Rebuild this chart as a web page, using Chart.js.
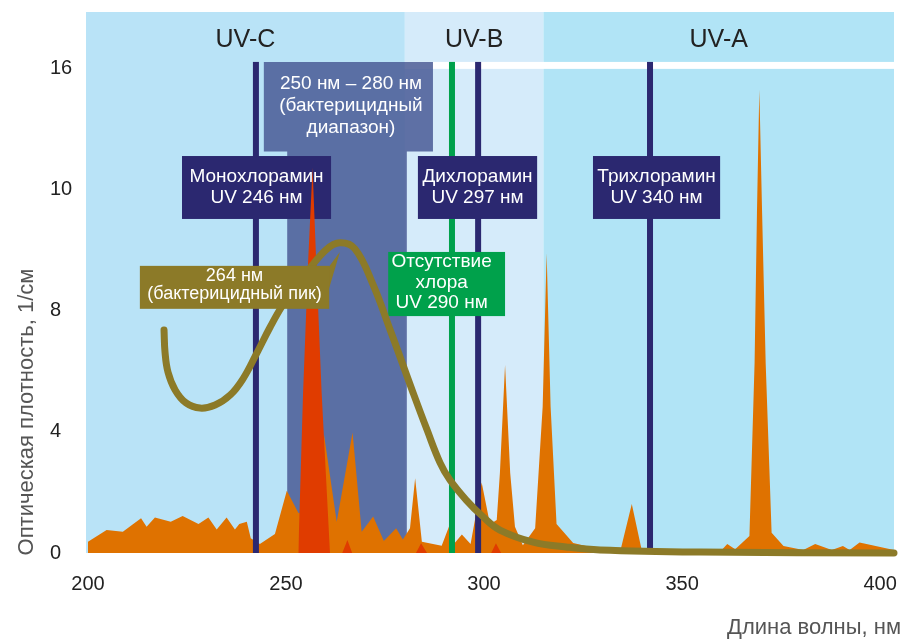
<!DOCTYPE html>
<html><head><meta charset="utf-8">
<script src="https://cdn.jsdelivr.net/npm/chart.js@4.4.0/dist/chart.umd.min.js"></script>
<style>html,body{margin:0;padding:0;background:#fff;}</style>
</head><body>
<canvas id="c" width="905" height="641"></canvas>
<script>
// ---- data ----
const spectrumNm  = [200.0,204.7,208.8,213.4,214.8,216.9,220.9,223.9,227.9,230.4,232.5,235.0,237.1,238.2,240.1,241.1,243.4,247.2,250.2,253.1,256.0,259.6,262.8,266.8,269.1,272.0,274.7,277.8,279.5,281.3,282.6,284.3,289.3,291.2,292.7,294.4,296.6,299.4,301.5,303.2,304.0,305.3,306.6,307.8,309.8,312.9,314.8,315.8,316.8,318.3,322.5,327.6,334.6,337.3,339.8,360.0,361.4,363.4,367.0,368.3,368.9,369.5,370.2,371.1,372.6,375.6,380.6,383.6,387.8,390.6,392.3,394.8,403.5];
const spectrumVal = [0.37,0.76,0.70,1.15,0.87,1.17,1.03,1.22,0.96,1.17,0.78,1.17,0.78,0.96,1.03,0.49,0.30,0.63,2.06,1.33,1.20,3.90,1.03,3.98,0.70,1.21,0.40,0.82,0.45,0.82,2.47,0.37,0.24,0.89,0.35,0.61,0.30,2.33,0.95,1.09,2.64,6.21,2.64,0.87,0.26,0.82,4.84,9.91,4.84,0.96,0.33,0.17,0.17,1.62,0.10,0.10,0.30,0.12,0.56,6.28,11.24,15.31,11.24,6.28,0.67,0.23,0.10,0.30,0.10,0.23,0.10,0.35,0.10];
const lampNm  = [253.1,254.3,255.6,256.7,257.6,259.0,261.1,264.2,265.5,266.7,282.8,284.1,285.6,301.8,303.0,304.3];
const lampVal = [0,5.28,9.69,12.73,9.69,5.28,0,0,0.43,0,0,0.32,0,0,0.32,0];
const curveNm  = [219.2,219.45,220.2,222.0,224.75,228.3,232.1,235.9,239.1,242.4,246.0,249.2,252.5,255.3,260.1,263.6,267.4,272.0,276.3,278.8,282.1,285.6,288.9,291.4,295.5,299.8,304.0,312.4,320.7,329.3,354.5,403.5];
const curveVal = [7.37,6.64,5.98,5.39,4.96,4.79,4.89,5.22,5.75,6.55,7.47,8.20,8.79,9.29,10.02,10.25,10.05,8.86,7.37,6.48,5.29,4.07,2.98,2.41,1.75,1.19,0.76,0.36,0.20,0.10,0.03,0.0];
const xTickValues = [200,250,300,350,400];
const yTickValues = [0,4,8,12,16];
const yTickLabels = ['0','4','8','10','16'];
const bandNames = ['UV-C','UV-B','UV-A'];
const bandStart = [199.5,280,315];
const bandEnd   = [280,315,403.5];
const markerNm  = [242.4,291.9,298.5,341.9];
const boxMono  = ['Монохлорамин','UV 246 нм'];
const boxDi    = ['Дихлорамин','UV 297 нм'];
const boxTri   = ['Трихлорамин','UV 340 нм'];
const boxNone  = ['Отсутствие','хлора','UV 290 нм'];
const boxPeak  = ['264 нм','(бактерицидный пик)'];
const boxRange = ['250 нм – 280 нм','(бактерицидный','диапазон)'];
const xTitle = 'Длина волны, нм';
const yTitle = 'Оптическая плотность, 1/см';

// ---- styles ----
const FONT = '"Liberation Sans", Arial, sans-serif';
const navy = '#2b2870', green = '#00a14b', olive = '#8c7a28';
const bandColors = ['#b9e3f7','#d5ebfa','#b1e4f6'];
const markerColors = [navy, green, navy, navy];
const pts = (xs, ys) => xs.map((v,i)=>({x:v, y:ys[i]}));

function textLines(ctx, lines, cx, cy, lh, font, color){
  ctx.font = font; ctx.fillStyle = color; ctx.textAlign='center'; ctx.textBaseline='middle';
  const n = lines.length;
  lines.forEach((t,i)=>ctx.fillText(t, cx, cy + (i-(n-1)/2)*lh));
}
function box(chart, x1, x2, y1, y2, color, lines, lh, font, dx, dy){
  const {ctx, scales:{x,y}} = chart;
  const px1 = x.getPixelForValue(x1), px2 = x.getPixelForValue(x2);
  const py1 = y.getPixelForValue(y1), py2 = y.getPixelForValue(y2);
  ctx.fillStyle = color;
  ctx.fillRect(px1, py1, px2-px1, py2-py1);
  textLines(ctx, lines, (px1+px2)/2 + (dx||0), (py1+py2)/2 + (dy||0), lh, font, '#ffffff');
}

const decor = {
  id:'decor',
  beforeDatasetsDraw(chart){
    const {ctx, chartArea:a, scales:{x,y}} = chart;
    ctx.save();
    for(let i=0;i<bandNames.length;i++){
      const x1 = x.getPixelForValue(bandStart[i]), x2 = x.getPixelForValue(bandEnd[i]);
      ctx.fillStyle = bandColors[i];
      ctx.fillRect(x1, a.top, x2-x1, a.bottom-a.top);
      ctx.font = '25px '+FONT; ctx.fillStyle='#222'; ctx.textAlign='center'; ctx.textBaseline='middle';
      ctx.fillText(bandNames[i], (x1+x2)/2, a.top+28);
    }
    // white strip at top of UV-B / UV-A
    const sx1 = x.getPixelForValue(280), sx2 = x.getPixelForValue(403.5);
    const sy1 = y.getPixelForValue(16.23), sy2 = y.getPixelForValue(16);
    ctx.fillStyle = '#ffffff';
    ctx.fillRect(sx1, sy1, sx2-sx1, sy2-sy1);
    // germicidal range shape
    const P = (nm,v)=>[x.getPixelForValue(nm), y.getPixelForValue(v)];
    const poly = [P(244.4,16.23),P(287.1,16.23),P(287.1,13.27),P(280.5,13.27),P(280.5,0),P(250.3,0),P(250.3,13.27),P(244.4,13.27)];
    ctx.beginPath(); poly.forEach((p,i)=> i?ctx.lineTo(p[0],p[1]):ctx.moveTo(p[0],p[1])); ctx.closePath();
    ctx.fillStyle = 'rgba(74,92,150,0.86)'; ctx.fill();
    const hy = y.getPixelForValue(16.23);
    textLines(ctx, boxRange, x.getPixelForValue(265.9)+2, hy+44, 22, '19px '+FONT, '#ffffff');
    ctx.restore();
  },
  afterDatasetDraw(chart, args){
    if(args.index !== 0) return;
    const {ctx, scales:{x,y}} = chart;
    ctx.save();
    markerNm.forEach((nm,i)=>{
      const px = x.getPixelForValue(nm);
      ctx.fillStyle = markerColors[i];
      const t = y.getPixelForValue(16.23), b = y.getPixelForValue(0);
      ctx.fillRect(px-3, t, 6, b-t);
    });
    const f19 = '19px '+FONT;
    box(chart, 223.74, 261.37, 13.12, 11.04, navy, boxMono, 21, f19);
    box(chart, 283.3, 313.4, 13.12, 11.04, navy, boxDi, 21, f19);
    box(chart, 327.5, 359.6, 13.12, 11.04, navy, boxTri, 21, f19);
    box(chart, 275.8, 305.3, 9.95, 7.83, green, boxNone, 20.5, f19, -5, -1.5);
    ctx.restore();
  },
  afterDatasetsDraw(chart){
    const {ctx, scales:{x,y}} = chart;
    ctx.save();
    // olive callout with pointer
    ctx.fillStyle = olive;
    ctx.beginPath();
    ctx.moveTo(x.getPixelForValue(260.6), y.getPixelForValue(9.42));
    ctx.lineTo(x.getPixelForValue(263.6), y.getPixelForValue(9.95));
    ctx.lineTo(x.getPixelForValue(260.6), y.getPixelForValue(8.63));
    ctx.closePath(); ctx.fill();
    box(chart, 213.1, 260.9, 9.49, 8.07, olive, boxPeak, 18, '18px '+FONT, 0, -2.5);
    ctx.restore();
  },
  afterDraw(chart){
    const {ctx} = chart;
    ctx.save();
    ctx.font = '22px '+FONT; ctx.fillStyle = '#555';
    ctx.textAlign='right'; ctx.textBaseline='middle';
    ctx.fillText(xTitle, 901, 628);
    ctx.translate(27, 412); ctx.rotate(-Math.PI/2);
    ctx.textAlign='center';
    ctx.fillText(yTitle, 0, 0);
    ctx.restore();
  }
};

new Chart(document.getElementById('c'), {
  type:'line',
  data:{
    datasets:[
      {data: pts(spectrumNm, spectrumVal), order:3, fill:'origin', backgroundColor:'#df7200', borderWidth:0, pointRadius:0, tension:0},
      {data: pts(lampNm, lampVal), order:2, fill:'origin', backgroundColor:'#e03c00', borderWidth:0, pointRadius:0, tension:0},
      {data: pts(curveNm, curveVal), order:1, fill:false, borderColor:olive, borderWidth:7, borderCapStyle:'round', borderJoinStyle:'round', pointRadius:0, tension:0.4, clip:false}
    ]
  },
  options:{
    responsive:false, animation:false, devicePixelRatio:1,
    layout:{padding:{left:50, top:12, right:11, bottom:0}},
    plugins:{legend:{display:false}, tooltip:{enabled:false}},
    scales:{
      x:{type:'linear', min:199.5, max:403.5,
        grid:{display:false, drawTicks:false}, border:{display:false},
        afterBuildTicks:s=>{ s.ticks = xTickValues.map(v=>({value:v})); },
        afterFit:s=>{ s.height = 88; s.paddingLeft = 0; s.paddingRight = 0; },
        ticks:{autoSkip:false, maxRotation:0, padding:19, color:'#222', font:{size:20, family:FONT}, callback:v=>String(v)}},
      y:{type:'linear', min:0, max:17.88,
        grid:{display:false, drawTicks:false}, border:{display:false},
        afterBuildTicks:s=>{ s.ticks = yTickValues.map(v=>({value:v})); },
        afterFit:s=>{ s.width = 36; s.paddingTop = 0; s.paddingBottom = 0; },
        ticks:{autoSkip:false, crossAlign:'far', color:'#222', font:{size:20, family:FONT},
          callback:(v)=>{ const i = yTickValues.indexOf(v); return i>=0 ? yTickLabels[i] : ''; }}}
    }
  },
  plugins:[decor]
});
</script>
</body></html>
